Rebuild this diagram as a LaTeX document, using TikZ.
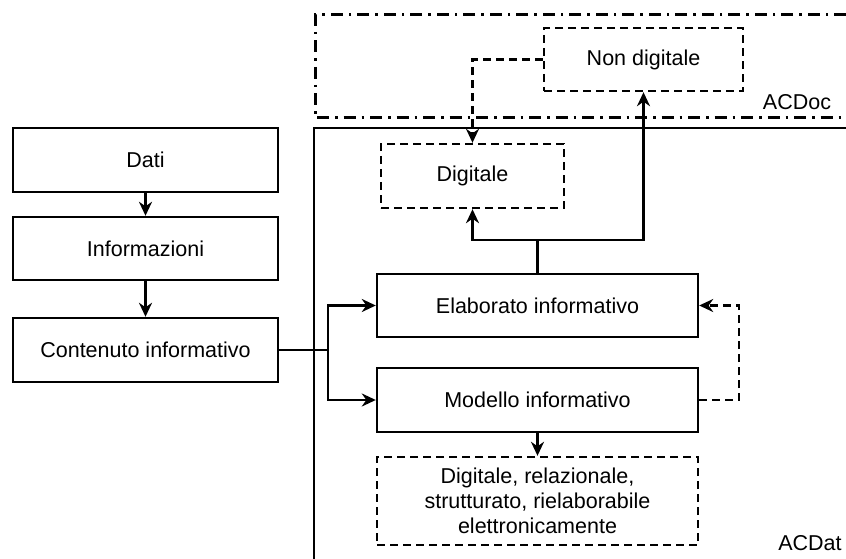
\documentclass[tikz,border=0pt]{standalone}
\usepackage{fontspec}
\setmainfont{Liberation Sans}
\usetikzlibrary{arrows.meta, positioning, calc}

\begin{document}
\begin{tikzpicture}[
    x=1pt, y=-1pt,
    font=\fontsize{21.5}{25}\selectfont,
    block/.style={
        draw,
        line width=2.4pt,
        align=center,
        inner sep=4pt
    },
    dblock/.style={block, dash pattern=on 8pt off 5pt},
    wire/.style={line width=2.4pt},
    arrow/.style={wire, -{Stealth[length=14pt, width=13pt]}},
    darrow/.style={arrow, dash pattern=on 8pt off 5pt},
    region/.style={line width=3pt, dash pattern=on 12pt off 6pt on 2.5pt off 6pt}
]
\useasboundingbox (0,0) rectangle (846,559);

% chain on the left
\node[block, minimum width=265pt, minimum height=64pt] (dati) at (145.5,160) {Dati};
\node[block, minimum width=265pt, minimum height=63pt] (info) at (145.5,248.5) {Informazioni};
\node[block, minimum width=265pt, minimum height=64pt] (cont) at (145.5,350) {Contenuto informativo};

% ACDat area
\node[block, minimum width=321pt, minimum height=63pt] (elab) at (537.5,305.5) {Elaborato informativo};
\node[block, minimum width=321pt, minimum height=64pt] (model) at (537.5,400) {Modello informativo};
\node[dblock, minimum width=321pt, minimum height=88pt] (struct) at (537.5,501)
    {Digitale, relazionale,\\strutturato, rielaborabile\\elettronicamente};
\node[dblock, minimum width=183pt, minimum height=64pt] (dig) at (472.5,176) {Digitale};

% ACDoc area
\node[dblock, minimum width=199pt, minimum height=63pt] (nondig) at (643.5,59.5) {Non digitale};

% area borders
\coordinate (acTop) at (314,128);
\draw[wire] (314,559) -- (acTop) -- (846,128);
\draw[region] (846,15) -- (315,15) -- (315,118) -- (846,118);
\node (acdoc) at (797,102) {ACDoc};
\node (acdat) at (810,543) {ACDat};

% connectors
\draw[arrow] (dati) -- (info);
\draw[arrow] (info) -- (cont);

\coordinate (split) at (328,350);
\draw[wire] (cont.east) -- (split);
\draw[arrow] (split) |- (elab.west);
\draw[arrow] (split) |- (model.west);

\coordinate (fork) at ($(elab.north)+(0,-33)$);
\draw[wire] (elab.north) -- (fork);
\draw[arrow] (fork) -| (dig.south);
\draw[arrow] (fork) -| (nondig.south);

\draw[darrow] (nondig.west) -| (dig.north);
\draw[darrow] (model.east) -- ++(40,0) |- (elab.east);
\draw[arrow] (model) -- (struct);

\end{tikzpicture}
\end{document}
